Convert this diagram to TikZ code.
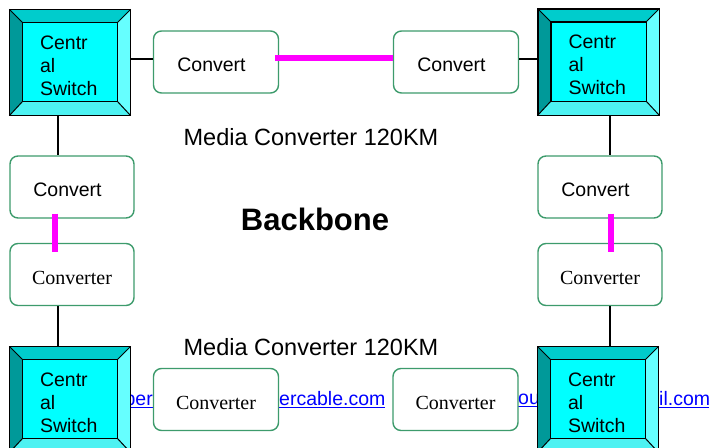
\documentclass[tikz,border=0pt]{standalone}
\usepackage{fontspec}
\setmainfont{Liberation Sans}
\newfontfamily\timesfont{Liberation Serif}
\usetikzlibrary{positioning}

\definecolor{swinner}{HTML}{00FFFF}
\definecolor{swtop}{HTML}{00CCCC}
\definecolor{swleft}{HTML}{009999}
\definecolor{swright}{HTML}{66FFFF}
\definecolor{swbottom}{HTML}{4DF2F2}
\definecolor{convgreen}{HTML}{3D9B6C}
\definecolor{fibre}{HTML}{FF00FF}
\definecolor{linkblue}{HTML}{0000FF}

\tikzstyle{switch} = [draw=black, line width=1.3pt, fill=swinner,
    minimum width=120pt, minimum height=105pt, inner sep=0pt,
    text width=60pt, align=left, font=\fontsize{19.5}{23}\selectfont]
\tikzstyle{conv} = [draw=convgreen, line width=1.4pt, fill=white,
    rectangle, rounded corners=8pt, minimum width=125pt, minimum height=62pt,
    text height=19pt, text depth=0pt, font=\fontsize{19.5}{23}\selectfont]
\tikzstyle{convtr} = [conv, font=\timesfont\fontsize{20}{23}\selectfont]
\tikzstyle{link} = [line width=1.2pt, black]
\tikzstyle{fibrelink} = [line width=6pt, fibre]
\tikzstyle{weburl} = [text=linkblue, inner sep=0pt, font=\fontsize{19.5}{23}\selectfont]
\tikzstyle{caption} = [font=\fontsize{23.5}{28}\selectfont]

\newcommand{\swtext}{\rule{0pt}{20pt}Centr\\al\\Switch}
\newcommand{\cvtext}{Convert\kern9pt}
% bevelled frame round a switch node
\newcommand{\bevel}[1]{%
    \fill[swtop] (#1.north west) -- (#1.north east) -- ([shift={(-13,13)}]#1.north east) -- ([shift={(13,13)}]#1.north west) -- cycle;
    \fill[swleft] (#1.north west) -- ([shift={(13,13)}]#1.north west) -- ([shift={(13,-14)}]#1.south west) -- (#1.south west) -- cycle;
    \fill[swright] (#1.north east) -- (#1.south east) -- ([shift={(-13,-14)}]#1.south east) -- ([shift={(-13,13)}]#1.north east) -- cycle;
    \fill[swbottom] (#1.south west) -- ([shift={(13,-14)}]#1.south west) -- ([shift={(-13,-14)}]#1.south east) -- (#1.south east) -- cycle;
    \draw[line width=1.3pt] ([shift={(13,13)}]#1.north west) rectangle ([shift={(-13,-14)}]#1.south east);
    \draw[line width=1pt] (#1.north west) -- ([shift={(13,13)}]#1.north west)
        (#1.north east) -- ([shift={(-13,13)}]#1.north east)
        (#1.south east) -- ([shift={(-13,-14)}]#1.south east)
        (#1.south west) -- ([shift={(13,-14)}]#1.south west);
    \draw[line width=1.3pt] (#1.north west) rectangle (#1.south east);
}

\begin{document}
\begin{tikzpicture}[x=1pt, y=-1pt]
    \useasboundingbox (0,0) rectangle (709,447);
    \clip (0,0) rectangle (709,447);

    % web addresses behind the bottom row
    \node[weburl, anchor=east] (url1) at (153,400) {\underline{ber}};
    \node[weburl, anchor=west] (url2) at (279,400) {\underline{ercable.com}};
    \node[weburl, anchor=west] (url3) at (518,400) {\underline{ou}};
    \node[weburl, anchor=west] (url4) at (659,400) {\underline{il.com}};

    % switches
    \node[switch] (swNW) at (70,62.5) {\swtext};
    \node[switch] (swNE) at (598.5,62) {\swtext};
    \node[switch] (swSW) at (70,399.5) {\swtext};
    \node[switch] (swSE) at (598,399.5) {\swtext};
    \bevel{swNW} \bevel{swNE} \bevel{swSW} \bevel{swSE}

    % converters
    \node[conv] (convNW) at (216,62) {\cvtext};
    \node[conv] (convNE) at (456,62) {\cvtext};
    \node[conv, minimum width=124pt] (convWN) at (72,187) {\cvtext};
    \node[convtr, minimum width=124pt] (convWS) at (72,274.5) {Converter};
    \node[conv, minimum width=124pt] (convEN) at (600,187) {\cvtext};
    \node[convtr, minimum width=124pt] (convES) at (600,274.5) {Converter};
    \node[convtr] (convSW) at (216,399.5) {Converter};
    \node[convtr] (convSE) at (455.5,399.5) {Converter};

    % copper links
    \draw[link] (swNW.east |- 0,59) -- (convNW.west |- 0,59);
    \draw[link] (convNE.east |- 0,59) -- (swNE.west |- 0,59);
    \draw[link] ([xshift=-12pt]swNW.south) -- ([xshift=-14pt]convWN.north);
    \draw[link] ([xshift=-14pt]convWS.south) -- ([xshift=-12pt]swSW.north);
    \draw[link] ([xshift=11.5pt]swNE.south) -- ([xshift=10pt]convEN.north);
    \draw[link] ([xshift=10pt]convES.south) -- ([xshift=12pt]swSE.north);

    % fibre links
    \draw[fibrelink, shorten <=-4pt] (convNW.east |- 0,58) -- (convNE.west |- 0,58);
    \draw[fibrelink, shorten <=-5pt, shorten >=-9pt] ([xshift=-17pt]convWN.south) -- ([xshift=-17pt]convWS.north);
    \draw[fibrelink, shorten <=-5pt, shorten >=-9pt] ([xshift=11pt]convEN.south) -- ([xshift=11pt]convES.north);

    % captions
    \node[caption] (capTop) at (311,137) {Media Converter 120KM};
    \node[caption] (capBot) at (311,347) {Media Converter 120KM};
    \node[font=\bfseries\fontsize{31}{36}\selectfont] (backbone) at (315,219) {Backbone};
\end{tikzpicture}
\end{document}
